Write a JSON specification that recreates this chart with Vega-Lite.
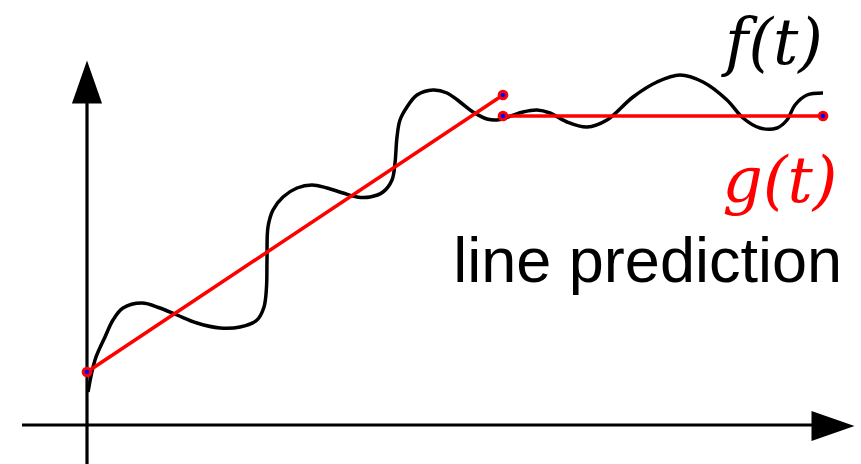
{
  "$schema": "https://vega.github.io/schema/vega-lite/v6.json",
  "width": 861,
  "height": 464,
  "padding": 0,
  "autosize": {"type": "none"},
  "background": "white",
  "config": {"view": {"stroke": null}},
  "datasets": {
    "axes": [
      {"axis": "t", "t": -0.65, "v": 0},
      {"axis": "t", "t": 7.3, "v": 0},
      {"axis": "v", "t": 0, "v": -0.4},
      {"axis": "v", "t": 0, "v": 3.25}
    ],
    "heads": [
      {"dir": "right", "t": 7.46, "v": -0.01},
      {"dir": "up", "t": 0, "v": 3.43}
    ],
    "f": [
      {"i": 0, "t": 0.01, "v": 0.33},
      {"i": 1, "t": 0.08, "v": 0.65},
      {"i": 2, "t": 0.18, "v": 0.88},
      {"i": 3, "t": 0.26, "v": 1.05},
      {"i": 4, "t": 0.36, "v": 1.17},
      {"i": 5, "t": 0.55, "v": 1.22},
      {"i": 6, "t": 0.73, "v": 1.17},
      {"i": 7, "t": 0.90, "v": 1.10},
      {"i": 8, "t": 1.10, "v": 1.02},
      {"i": 9, "t": 1.33, "v": 0.97},
      {"i": 10, "t": 1.53, "v": 0.98},
      {"i": 11, "t": 1.70, "v": 1.05},
      {"i": 12, "t": 1.77, "v": 1.18},
      {"i": 13, "t": 1.795, "v": 1.38},
      {"i": 14, "t": 1.80, "v": 1.65},
      {"i": 15, "t": 1.81, "v": 1.98},
      {"i": 16, "t": 1.86, "v": 2.15},
      {"i": 17, "t": 1.96, "v": 2.28},
      {"i": 18, "t": 2.10, "v": 2.37},
      {"i": 19, "t": 2.25, "v": 2.40},
      {"i": 20, "t": 2.40, "v": 2.37},
      {"i": 21, "t": 2.56, "v": 2.32},
      {"i": 22, "t": 2.70, "v": 2.28},
      {"i": 23, "t": 2.83, "v": 2.28},
      {"i": 24, "t": 2.96, "v": 2.33},
      {"i": 25, "t": 3.05, "v": 2.45},
      {"i": 26, "t": 3.08, "v": 2.62},
      {"i": 27, "t": 3.10, "v": 2.88},
      {"i": 28, "t": 3.13, "v": 3.05},
      {"i": 29, "t": 3.20, "v": 3.18},
      {"i": 30, "t": 3.30, "v": 3.30},
      {"i": 31, "t": 3.46, "v": 3.35},
      {"i": 32, "t": 3.60, "v": 3.32},
      {"i": 33, "t": 3.73, "v": 3.23},
      {"i": 34, "t": 3.86, "v": 3.13},
      {"i": 35, "t": 4.00, "v": 3.06},
      {"i": 36, "t": 4.10, "v": 3.05},
      {"i": 37, "t": 4.21, "v": 3.08},
      {"i": 38, "t": 4.36, "v": 3.13},
      {"i": 39, "t": 4.50, "v": 3.15},
      {"i": 40, "t": 4.63, "v": 3.12},
      {"i": 41, "t": 4.80, "v": 3.03},
      {"i": 42, "t": 5.00, "v": 2.98},
      {"i": 43, "t": 5.20, "v": 3.05},
      {"i": 44, "t": 5.46, "v": 3.28},
      {"i": 45, "t": 5.70, "v": 3.43},
      {"i": 46, "t": 5.93, "v": 3.50},
      {"i": 47, "t": 6.16, "v": 3.43},
      {"i": 48, "t": 6.40, "v": 3.25},
      {"i": 49, "t": 6.56, "v": 3.07},
      {"i": 50, "t": 6.73, "v": 2.97},
      {"i": 51, "t": 6.90, "v": 2.97},
      {"i": 52, "t": 7.00, "v": 3.05},
      {"i": 53, "t": 7.08, "v": 3.20},
      {"i": 54, "t": 7.20, "v": 3.30},
      {"i": 55, "t": 7.36, "v": 3.32}
    ],
    "g": [
      {"seg": "a", "t": 0.00, "v": 0.53},
      {"seg": "a", "t": 4.16, "v": 3.30},
      {"seg": "b", "t": 4.16, "v": 3.09},
      {"seg": "b", "t": 7.36, "v": 3.09}
    ],
    "labels": [
      {"label": "f(t)", "t": 6.87, "v": 3.61},
      {"label": "g(t)", "t": 6.93, "v": 2.23}
    ],
    "caption": [
      {"label": "line prediction", "t": 7.55, "v": 1.43}
    ]
  },
  "encoding": {
    "x": {"field": "t", "type": "quantitative", "scale": {"domain": [-0.87, 7.74], "nice": false, "zero": false}, "axis": null},
    "y": {"field": "v", "type": "quantitative", "scale": {"domain": [-0.39, 4.25], "nice": false, "zero": false}, "axis": null}
  },
  "layer": [
    {
      "data": {"name": "axes"},
      "mark": {"type": "line", "color": "black", "strokeWidth": 3.2, "clip": false},
      "encoding": {"detail": {"field": "axis"}}
    },
    {
      "data": {"name": "heads"},
      "transform": [{"filter": "datum.dir == 'right'"}],
      "mark": {"type": "point", "filled": true, "color": "black", "opacity": 1, "size": 1849, "shape": "M-1,-0.7L1,0L-1,0.7Z"}
    },
    {
      "data": {"name": "heads"},
      "transform": [{"filter": "datum.dir == 'up'"}],
      "mark": {"type": "point", "filled": true, "color": "black", "opacity": 1, "size": 1849, "shape": "M-0.7,1L0,-1L0.7,1Z"}
    },
    {
      "data": {"name": "f"},
      "mark": {"type": "line", "color": "black", "strokeWidth": 3.5, "interpolate": "catmull-rom"},
      "encoding": {"order": {"field": "i", "type": "quantitative"}}
    },
    {
      "data": {"name": "g"},
      "mark": {"type": "line", "color": "#ff0000", "strokeWidth": 3.5},
      "encoding": {"detail": {"field": "seg"}}
    },
    {
      "data": {"name": "g"},
      "mark": {"type": "point", "filled": true, "fill": "#0000ff", "stroke": "#ff0000", "strokeWidth": 3, "opacity": 1, "size": 60}
    },
    {
      "data": {"name": "labels"},
      "mark": {"type": "text", "font": "DejaVu Serif", "fontStyle": "italic", "fontSize": 63, "align": "center", "baseline": "alphabetic"},
      "encoding": {
        "text": {"field": "label"},
        "color": {"field": "label", "type": "nominal", "scale": {"domain": ["f(t)", "g(t)"], "range": ["#000000", "#ff0000"]}, "legend": null}
      }
    },
    {
      "data": {"name": "caption"},
      "mark": {"type": "text", "font": "Liberation Sans", "fontSize": 63, "align": "right", "baseline": "alphabetic", "color": "black"},
      "encoding": {"text": {"field": "label"}}
    }
  ]
}
